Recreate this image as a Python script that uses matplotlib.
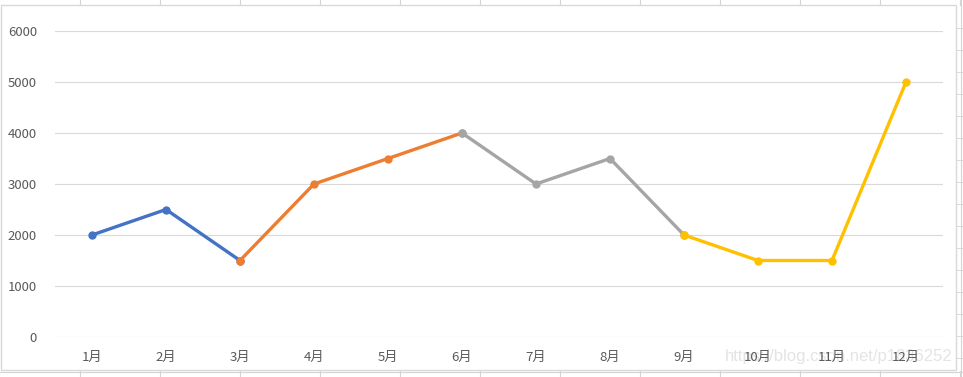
import numpy as np
import matplotlib.pyplot as plt
from matplotlib.patches import Rectangle
from matplotlib.lines import Line2D

plt.rcParams['font.family'] = ['Noto Sans CJK SC', 'DejaVu Sans']

months = ['1月', '2月', '3月', '4月', '5月', '6月', '7月', '8月', '9月', '10月', '11月', '12月']
nan = np.nan
# each colour is its own series, they share the end month
blue = [2000, 2500, 1500, nan, nan, nan, nan, nan, nan, nan, nan, nan]
orange = [nan, nan, 1500, 3000, 3500, 4000, nan, nan, nan, nan, nan, nan]
gray = [nan, nan, nan, nan, nan, 4000, 3000, 3500, 2000, nan, nan, nan]
yellow = [nan, nan, nan, nan, nan, nan, nan, nan, 2000, 1500, 1500, 5000]
colors = ['#4472C4', '#ED7D31', '#A5A5A5', '#FFC000']

W, H = 963, 377
fig = plt.figure(figsize=(W / 100, H / 100), dpi=100)

# spreadsheet cell lines behind the chart
cell = '#D4D4D4'
for x in range(80, 963, 80):
    fig.add_artist(Line2D([x / W, x / W], [1 - 5 / H, 1], color=cell, lw=0.8, zorder=-2))
    fig.add_artist(Line2D([x / W, x / W], [0, 1 - 371 / H], color=cell, lw=0.8, zorder=-2))
fig.add_artist(Line2D([961 / W, 961 / W], [0, 1], color=cell, lw=0.8, zorder=-2))
for y in range(28, 377, 22):
    fig.add_artist(Line2D([957 / W, 963 / W], [1 - y / H, 1 - y / H], color=cell, lw=0.6, zorder=-2))
fig.add_artist(Line2D([0, 1], [1 - 372 / H, 1 - 372 / H], color=cell, lw=0.8, zorder=-2))

# chart frame
fig.add_artist(Rectangle((1 / W, 1 - 370 / H), 955 / W, 365 / H, transform=fig.transFigure,
                         facecolor='white', edgecolor='#D9D9D9', lw=1.0, zorder=-1))

fig.text(953 / W, 1 - 356 / H, 'https://blog.csdn.net/p1836252', ha='right', va='center',
         fontsize=12, color='#E4E4E4', family=['Liberation Sans', 'DejaVu Sans'], zorder=-0.5)

ax = fig.add_axes([55 / W, 1 - 337 / H, 888 / W, 306 / H])
ax.set_facecolor('none')
x = np.arange(len(months))
for ys, c in zip([blue, orange, gray, yellow], colors):
    ax.plot(x, ys, color=c, lw=2.4, marker='o', markersize=5, solid_capstyle='round', zorder=3)

ax.set_xlim(-0.5, 11.5)
ax.set_ylim(0, 6000)
ax.set_yticks(range(0, 6001, 1000))
ax.set_xticks(x)
ax.set_xticklabels(months)
ax.grid(axis='y', color='#D9D9D9', lw=0.8)
ax.set_axisbelow(True)
for s in ax.spines.values():
    s.set_visible(False)
ax.tick_params(length=0, labelsize=9.5, colors='#595959')
ax.tick_params(axis='y', pad=13)
ax.tick_params(axis='x', pad=10)

fig.savefig('out.png', dpi=100)
